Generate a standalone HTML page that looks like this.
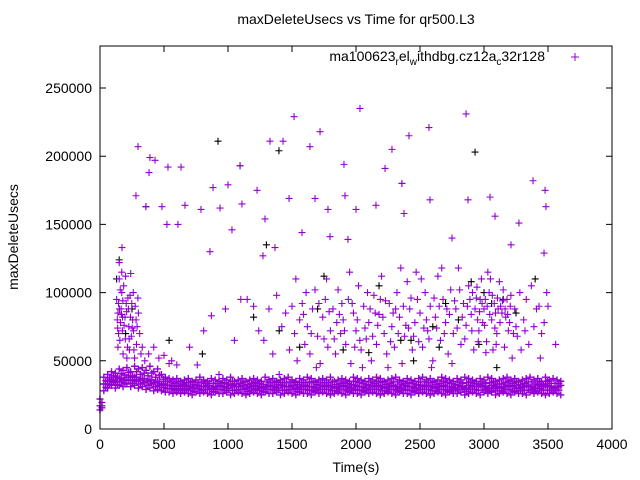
<!DOCTYPE html>
<html><head><meta charset="utf-8"><style>
body{margin:0;background:#fff}
svg{display:block;font-family:"Liberation Sans",sans-serif}
</style></head><body>
<svg id="chart" width="640" height="480" viewBox="0 0 640 480">
<rect width="640" height="480" fill="#fff"/>
<text x="356" y="24" text-anchor="middle" font-size="14">maxDeleteUsecs vs Time for qr500.L3</text>
<text transform="translate(18,237) rotate(-90)" text-anchor="middle" font-size="14">maxDeleteUsecs</text>
<text x="356" y="472" text-anchor="middle" font-size="14">Time(s)</text>
<g id="axes"></g>
<g id="marks"></g>
<rect x="100" y="46" width="512" height="383" fill="none" stroke="#000" stroke-width="1"/>
<g>
<text x="545" y="61" text-anchor="end" font-size="14">ma100623<tspan font-size="10" dy="4">r</tspan><tspan dy="-4">el</tspan><tspan font-size="10" dy="4">w</tspan><tspan dy="-4">ithdbg.cz12a</tspan><tspan font-size="10" dy="4">c</tspan><tspan dy="-4">32r128</tspan></text>
<path d="M571 57h8M575 53v8" stroke="#9400d3" stroke-width="1"/>
</g>
</svg>
<script>
// values in thousands of usecs
const xTicks = [0,500,1000,1500,2000,2500,3000,3500,4000];
const yTicks = [0,50,100,150,200,250];
const bandT = [0,30,60,90,120,150,180,210,240,270,300,330,360,390,420,450,480,510,540,570,600,630,660,690,720,750,780,810,840,870,900,930,960,990,1020,1050,1080,1110,1140,1170,1200,1230,1260,1290,1320,1350,1380,1410,1440,1470,1500,1530,1560,1590,1620,1650,1680,1710,1740,1770,1800,1830,1860,1890,1920,1950,1980,2010,2040,2070,2100,2130,2160,2190,2220,2250,2280,2310,2340,2370,2400,2430,2460,2490,2520,2550,2580,2610,2640,2670,2700,2730,2760,2790,2820,2850,2880,2910,2940,2970,3000,3030,3060,3090,3120,3150,3180,3210,3240,3270,3300,3330,3360,3390,3420,3450,3480,3510,3540,3570,3600];
const bandHi = [22,38,40,42,41,44,43,45,42,46,44,45,43,46,42,44,40,38,37,36,37,35,36,37,35,36,38,36,35,37,36,35,37,36,38,35,36,37,35,36,37,36,35,38,36,37,35,36,37,38,36,35,37,36,38,37,35,36,37,36,38,35,36,37,36,35,38,37,36,35,37,36,38,37,35,36,37,38,36,35,37,36,35,37,38,36,37,35,36,38,37,36,35,37,36,38,37,36,35,37,36,38,37,35,36,37,38,36,37,35,36,37,38,36,37,35,38,36,37,36,35];
const bandMid = [17,33,35,36,35,37,36,38,36,38,36,37,35,36,34,35,33,32,32,31,32,31,32,31,30,32,31,31,32,30,31,32,31,30,32,31,31,32,30,31,32,31,30,31,32,31,30,32,31,31,32,30,31,32,31,31,30,32,31,32,31,30,31,32,31,30,32,31,31,30,32,31,32,31,30,31,32,31,30,32,31,31,30,32,31,32,31,30,31,32,31,31,30,32,31,30,32,31,31,32,31,30,32,31,30,31,32,31,32,30,31,32,31,30,32,31,32,31,30,31,32];
const bandLo = [14,28,30,32,30,32,31,33,31,32,30,31,29,30,28,29,28,27,27,26,27,26,27,26,25,27,26,27,26,25,27,26,26,27,25,26,27,26,25,26,27,26,25,27,26,26,27,25,26,27,26,25,27,26,26,25,27,26,27,26,25,26,27,26,25,27,26,26,25,27,26,27,26,25,26,27,26,25,27,26,26,25,27,26,27,26,25,26,27,26,25,27,26,26,27,25,26,27,26,25,27,26,27,25,26,27,26,25,27,26,26,25,27,26,27,26,25,26,27,26,25];
const purplePts = [[130,95],[140,85],[150,110],[160,78],[170,100],[145,70],[155,65],[165,88],[175,72],[185,105],[195,82],[205,92],[215,60],[225,75],[235,98],[245,68],[255,80],[265,58],[275,90],[285,62],[150,122],[170,115],[200,112],[240,114],[260,100],[290,75],[310,70],[320,55],[330,60],[300,85],[140,60],[180,55],[210,52],[230,58],[270,52],[350,50],[380,55],[420,60],[460,52],[500,54],[540,48],[560,50],
[135,80],[145,92],[158,102],[168,84],[178,94],[188,76],[198,66],[208,86],[218,96],[228,66],[238,82],[248,92],[262,72],[282,80],[296,96],[138,74],[152,88],[176,82],[222,88],[252,74],
[600,47],[700,60],[760,47],[810,72],[870,83],[930,40],[980,88],[1050,65],[1100,95],[1150,95],[1200,90],[1240,72],[1280,65],[1320,88],[1350,55],[1380,98],[1400,40],[1420,75],[1450,85],[1480,58],
[1500,90],[1520,70],[1540,50],[1560,80],[1580,92],[1600,62],[1620,75],[1640,55],[1660,88],[1680,102],[1700,68],[1720,48],[1740,82],[1760,95],[1780,60],[1800,72],[1530,110],[1610,100],[1690,45],[1770,110],
[1820,88],[1840,55],[1860,102],[1880,70],[1900,80],[1920,62],[1940,95],[1960,48],[1980,85],[2000,72],[2020,105],[2040,58],[2060,90],[2080,66],[2100,78],[2120,50],[2140,98],[2160,62],[2180,84],[2200,112],[2220,70],[2240,55],[2260,92],[2280,75],[2300,60],[2320,100],[2340,82],[2360,48],[2380,68],[2400,108],[2420,88],[2440,58],[2460,78],[2480,95],[1850,78],[1950,115],[2050,45],[2150,85],[2250,45],[2350,118],[2450,68],[1890,92],[1990,60],[2090,100],[2190,95],[2290,85],[2390,76],[2470,115],
[1830,66],[1870,84],[1910,72],[1970,92],[2010,80],[2030,65],[2070,74],[2110,88],[2130,68],[2170,76],[2210,82],[2230,94],[2270,64],[2310,88],[2330,70],[2370,90],[2410,74],[2430,96],[2490,64],[1590,84],[1650,70],[1710,92],[1750,66],[1790,86],
[2500,85],[2520,60],[2540,100],[2560,72],[2580,90],[2600,50],[2620,82],[2640,112],[2660,65],[2680,95],[2700,78],[2720,55],[2740,102],[2760,70],[2780,88],[2800,118],[2820,62],[2840,92],[2860,76],[2880,105],[2900,84],[2920,58],[2940,96],[2960,72],[2980,110],[3000,88],[3020,64],[3040,100],[3060,80],[3080,92],[3100,70],[3120,108],[3140,85],[3160,60],[3180,95],[3200,78],[3220,52],[3240,88],[3260,68],[3280,100],[2510,110],[2590,45],[2670,118],[2750,48],[2830,82],[2910,100],[2970,95],[3010,95],[3050,110],[3090,85],[3130,90],[3170,82],[3210,98],[3250,75],[3290,58],[2850,66],[2950,80],[2990,78],[3030,115],[3070,58],[3110,88],[3150,102],[3190,72],[2890,95],[2930,88],[2810,102],[2710,88],[2610,96],[2550,80],
[2530,74],[2570,66],[2630,74],[2650,90],[2690,70],[2730,84],[2770,94],[2790,74],[2870,90],[2905,72],[2945,104],[2965,86],[2985,92],[3005,76],[3025,90],[3045,84],[3065,98],[3085,74],[3105,96],[3125,78],[3145,94],[3165,88],[3185,84],[3205,90],[3230,70],[2955,64],[3015,56],[3095,62],
[3310,80],[3330,95],[3350,62],[3370,105],[3390,75],[3410,88],[3430,90],[3450,70],[3470,78],[3490,100],[3500,90],[3560,62],[3320,72],[3440,52],
[2031,235],[1516,229],[2860,231],[2570,221],[1719,218],[2414,215],[1328,211],[1430,211],[297,207],[2281,205],[1640,207],[390,199],[430,197],[531,192],[633,192],[1094,193],[1906,194],[2227,191],[3383,182],[883,177],[1000,179],[1227,175],[2359,180],[3477,175],[281,171],[383,188],[1477,169],[1680,169],[1914,171],[2578,168],[2875,168],[3047,170],[359,163],[484,163],[664,164],[789,161],[938,162],[1109,165],[1289,154],[1781,161],[2000,161],[2156,164],[2375,158],[3086,156],[3273,151],[3484,163],[523,150],[609,150],[1031,146],[1937,139],[1367,133],[1578,144],[1797,141],[2750,140],[3211,135],[3469,129],[859,130],[172,133],[1273,127]];
const blackPts = [[150,124],[130,110],[922,211],[1398,204],[2930,203],[359,163],[1094,193],[2359,180],[1750,112],[2180,105],[2600,75],[2960,62],[3060,92],[1400,72],[2450,50],[1200,82],[1700,88],[2900,108],[3150,95],[2800,80],[2100,56],[1560,60],[3250,85],[2700,92],[200,70],[250,88],[2350,65],[1900,58],[3000,100],[3400,110],[540,65],[800,55],[2650,60],[3100,45],[1300,135],[2430,65]];

const X0=100,X1=612,Y0=429,YT=88;
const sx = t => X0 + t*(X1-X0)/4000;
const sy = v => Y0 - v*(Y0-YT)/250;
const NS="http://www.w3.org/2000/svg";
const axes=document.getElementById('axes'), marks=document.getElementById('marks');
function mk(tag,attrs,parent){const e=document.createElementNS(NS,tag);for(const k in attrs)e.setAttribute(k,attrs[k]);parent.appendChild(e);return e;}
xTicks.forEach(t=>{
  const x=sx(t);
  const tk=mk('path',{d:`M${x} ${Y0}v-6M${x} 46v6`,stroke:'#000'},axes);
  
  
  const lb=mk('text',{x:x,y:Y0+20,'text-anchor':'middle','font-size':'14'},axes);
  lb.textContent=t;
  
  
});
yTicks.forEach(v=>{
  const y=sy(v);
  const tk=mk('path',{d:`M${X0} ${y}h6M${X1} ${y}h-6`,stroke:'#000'},axes);
  
  
  const lb=mk('text',{x:92,y:y+5,'text-anchor':'end','font-size':'14'},axes);
  lb.textContent=v*1000;
  
  
});
function plus(t,v,color,name,w){
  const x=sx(t),y=sy(v);
  const p=mk('path',{d:`M${x-3.5} ${y}h7M${x} ${y-3.5}v7`,stroke:color,'stroke-width':w||'1.1'},marks);
  
  
}
bandT.forEach((t,i)=>{
  plus(t,bandHi[i],'#9400d3','band-point','1.4');
  plus(t,bandMid[i],'#9400d3','band-point','1.4');
  plus(t,bandLo[i],'#9400d3','band-point','1.4');
  if(i+1<bandT.length){
    const tm=(t+bandT[i+1])/2;
    plus(tm,(bandHi[i]+bandMid[i])/2,'#9400d3','band-point','1.4');
    plus(tm,(bandMid[i]+bandLo[i])/2,'#9400d3','band-point','1.4');
    plus(tm,bandMid[i],'#9400d3','band-point','1.4');
  }
});
blackPts.forEach(p=>plus(p[0],p[1],'#000','black-point'));
purplePts.forEach(p=>plus(p[0],p[1],'#9400d3','purple-point'));
</script>
</body></html>
